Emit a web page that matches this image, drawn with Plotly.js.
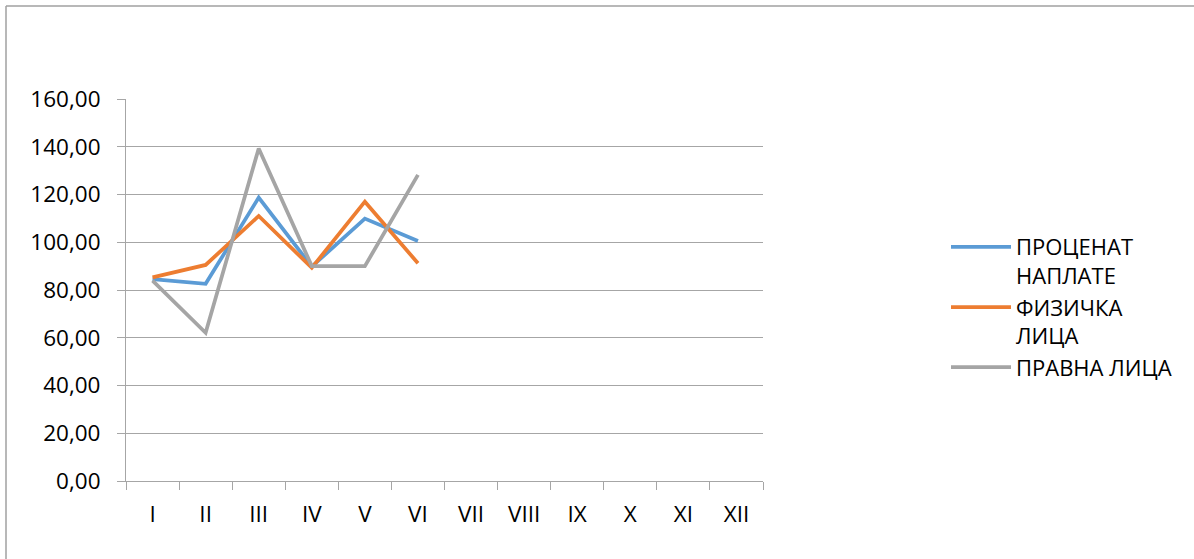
<!DOCTYPE html>
<html>
<head>
<meta charset="utf-8">
<script src="https://cdn.plot.ly/plotly-3.0.1.min.js"></script>
<style>
  html, body { margin: 0; padding: 0; background: #fff; }
  #chart { width: 1194px; height: 559px; }
</style>
</head>
<body>
<div id="chart"></div>
<script>
const months = ["I", "II", "III", "IV", "V", "VI", "VII", "VIII", "IX", "X", "XI", "XII"];
const dataMonths = ["I", "II", "III", "IV", "V", "VI"];
const procenatNaplate = [84.6, 82.6, 118.7, 89.8, 109.9, 100.5];
const fizickaLica = [85.3, 90.5, 111.0, 89.3, 117.0, 91.2];
const pravnaLica = [83.9, 62.1, 139.3, 90.0, 90.0, 128.2];
const seriesNames = ["ПРОЦЕНАТ<br>НАПЛАТЕ", "ФИЗИЧКА<br>ЛИЦА", "ПРАВНА ЛИЦА"];
const yTicks = [0, 20, 40, 60, 80, 100, 120, 140, 160];

const W = 1194, H = 559;
const L = 126, R = 763, T = 99, B = 481;
const px = v => (v - L) / (R - L);
const py = v => (B - v) / (B - T);

const font = "Open Sans, DejaVu Sans, sans-serif";

const traces = [
  { x: dataMonths, y: procenatNaplate, name: seriesNames[0], color: "#5B9BD5" },
  { x: dataMonths, y: fizickaLica, name: seriesNames[1], color: "#ED7D31" },
  { x: dataMonths, y: pravnaLica, name: seriesNames[2], color: "#A5A5A5" }
].map(s => ({
  type: "scatter", mode: "lines", x: s.x, y: s.y, name: s.name,
  line: { color: s.color, width: 3.75 }, hoverinfo: "x+y"
}));

const layout = {
  width: W, height: H,
  margin: { l: L, r: W - R, t: T, b: H - B },
  paper_bgcolor: "#fff", plot_bgcolor: "#fff",
  separators: ",.",
  font: { family: font, size: 22.5, color: "#000" },
  showlegend: true,
  xaxis: {
    type: "category", categoryorder: "array", categoryarray: months,
    range: [-0.5, 11.5], tickson: "boundaries",
    showgrid: false, zeroline: false,
    showline: true, linecolor: "#a6a6a6", linewidth: 1,
    ticks: "outside", ticklen: 8, tickcolor: "#a6a6a6", tickwidth: 1,
    ticklabelstandoff: 13,
    tickfont: { family: font, size: 22.5, color: "#000" }
  },
  yaxis: {
    range: [0, 160], tickmode: "array", tickvals: yTicks,
    tickformat: ".2f",
    showgrid: true, gridcolor: "#a6a6a6", gridwidth: 1,
    zeroline: false,
    showline: true, linecolor: "#a6a6a6", linewidth: 1,
    ticks: "outside", ticklen: 8, tickcolor: "#a6a6a6", tickwidth: 1,
    ticklabelstandoff: 12,
    tickfont: { family: font, size: 22.5, color: "#000" }
  },
  legend: {
    x: px(946), xanchor: "left", y: py(226), yanchor: "top",
    font: { family: font, size: 22, color: "#000" },
    itemwidth: 60, valign: "top", tracegroupgap: 0,
    bgcolor: "rgba(0,0,0,0)"
  },
  shapes: [
    { type: "line", xref: "paper", yref: "paper", x0: px(6), x1: px(W), y0: py(6), y1: py(6),
      line: { color: "#a0a0a0", width: 1.5 } },
    { type: "line", xref: "paper", yref: "paper", x0: px(6), x1: px(6), y0: py(6), y1: py(H),
      line: { color: "#a0a0a0", width: 1.5 } }
  ]
};

Plotly.newPlot("chart", traces, layout, { displayModeBar: false, staticPlot: true });
</script>
</body>
</html>
